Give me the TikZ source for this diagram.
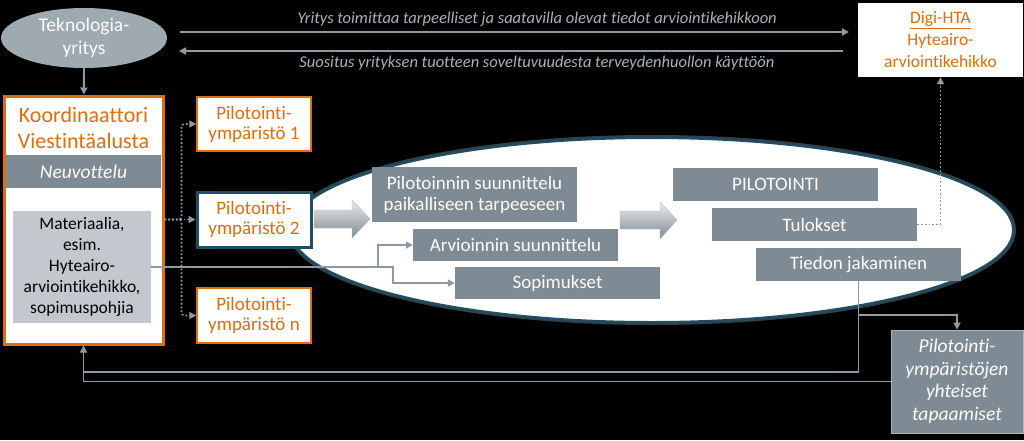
\documentclass[tikz,border=0pt]{standalone}
\usepackage{fontspec}
\setmainfont{Carlito}[Ligatures=NoCommon]
\usetikzlibrary{arrows.meta, shapes.geometric}
\definecolor{orng}{HTML}{E46C0A}
\definecolor{boxgray}{HTML}{7F8B94}
\definecolor{linegray}{HTML}{8E9AA2}
\definecolor{lightgray}{HTML}{C3C8CE}
\definecolor{darkteal}{HTML}{1F4E66}
\definecolor{txtgray}{HTML}{A9B3BA}
\begin{document}
\begin{tikzpicture}[x=1pt, y=-1pt,
  graybox/.style={fill=boxgray, text=white, inner sep=0pt, minimum width=205, font=\fontsize{19}{21}\selectfont, align=center},
  pilotbox/.style={fill=white, draw=orng, line width=1.5, text=orng, inner sep=0pt, minimum width=114, minimum height=54, font=\fontsize{19}{20}\selectfont, align=center},
  conn/.style={draw=linegray, line width=1.8, -{Triangle[length=7pt, width=7pt]}},
  dotconn/.style={conn, dotted, line width=1.6},
  toptext/.style={text=txtgray, font=\fontsize{16.5}{18}\selectfont\itshape}]
\fill[black] (0,0) rectangle (1024,440);
\useasboundingbox (0,0) rectangle (1024,440);
%Ellipse
\draw[darkteal!70, line width=6, opacity=0.5] (652,230) ellipse (361 and 92);
\draw[darkteal, line width=2, fill=white] (652,230) ellipse (361 and 92);
%Left column
\node (tek) [ellipse, fill=linegray!85!white, minimum width=166, minimum height=60, inner sep=0pt, text=white, align=center, font=\fontsize{19.5}{23}\selectfont] at (84,38) {Teknologia-\\yritys};
\node (koord) [draw=orng, line width=3, fill=white, minimum width=159, minimum height=248, inner sep=0pt] at (83.5,220) {};
\node (title) [text=orng, align=center, font=\fontsize{22}{26}\selectfont] at (83.5,128) {Koordinaattori\\Viestintäalusta};
\node (neuv) [fill=boxgray, minimum width=155, minimum height=33, inner sep=0pt, text=white, font=\fontsize{19.5}{20}\selectfont\itshape] at (83.5,171.5) {Neuvottelu};
\node (mat) [fill=lightgray, minimum width=138, minimum height=112, inner sep=0pt, align=center, font=\fontsize{17.5}{21}\selectfont] at (82,267) {Materiaalia,\\esim.\\Hyteairo-\\arviointikehikko,\\sopimuspohjia};
\node (p1) [pilotbox] at (254,124) {Pilotointi-\\ympäristö 1};
\node (p2) [pilotbox, draw=darkteal, line width=3, minimum height=55] at (254,219.5) {Pilotointi-\\ympäristö 2};
\node (pn) [pilotbox, minimum height=55] at (254,315.5) {Pilotointi-\\ympäristö n};
%Block arrows
\shade[top color=gray!15, bottom color=linegray!90!black, draw=linegray!70] (314,210) -- (352,210) -- (352,200) -- (370,219) -- (352,238) -- (352,228) -- (314,228) -- cycle;
\shade[top color=gray!15, bottom color=linegray!90!black, draw=linegray!70] (620,211) -- (660,211) -- (660,202) -- (677,220) -- (660,239) -- (660,229) -- (620,229) -- cycle;
%Gray boxes
\node (plan) [graybox, minimum height=55] at (474.5,194.5) {Pilotoinnin suunnittelu\\paikalliseen tarpeeseen};
\node (arv) [graybox, minimum height=32] at (515.5,245) {Arvioinnin suunnittelu};
\node (sop) [graybox, minimum height=32] at (557.5,283) {Sopimukset};
\node (pil) [graybox, minimum height=33] at (775.5,184.5) {PILOTOINTI};
\node (tul) [graybox, minimum height=33] at (814.5,224.5) {Tulokset};
\node (tie) [graybox, minimum height=33] at (858.5,264.5) {Tiedon jakaminen};
\node (yht) [fill=boxgray, draw=gray!60, line width=0.8, minimum width=132, minimum height=103, inner sep=0pt, text=white, align=center, font=\fontsize{19.5}{22.5}\selectfont\itshape] at (957,381.5) {Pilotointi-\\ympäristöjen\\yhteiset\\tapaamiset};
\node (digi) [fill=white, minimum width=165, minimum height=74, inner sep=0pt, text=orng, align=center, font=\fontsize{17.5}{22}\selectfont] at (940.5,40) {\underline{Digi-HTA}\\Hyteairo-\\arviointikehikko};
%Top arrows
\coordinate (tA) at (180,32);
\coordinate (tB) at (849,32);
\coordinate (tC) at (843,51);
\coordinate (tD) at (179,51);
\draw[conn] (tA) -- (tB) node[toptext, pos=0.534, above=1pt] {Yritys toimittaa tarpeelliset ja saatavilla olevat tiedot arviointikehikkoon};
\draw[conn] (tC) -- (tD) node[toptext, pos=0.461, below=1pt] {Suositus yrityksen tuotteen soveltuvuudesta terveydenhuollon käyttöön};
%Connectors
\draw[conn] (tek) -- (koord);
\draw[dotconn] (koord.east |- p2.west) -- (p2.west);
\draw[dotconn, rounded corners=3] (koord.east |- p2.west) -- ++(17,0) |- (p1.west);
\draw[dotconn, rounded corners=3] (koord.east |- p2.west) -- ++(17,0) |- (pn.west);
\draw[conn] (mat.east) -- ++(227,0) |- (arv.west);
\draw[conn] (mat.east) -- ++(242,0) |- (sop.west);
\draw[dotconn] (tul.east) -| (digi.south);
\coordinate (back) at (83.5,372);
\draw[draw=linegray, line width=1.8] (tie.south) |- (back);
\draw[conn] (yht.west) -| (koord.south);
\draw[conn] (tie.south |- 0,315) -| (yht.north);
\end{tikzpicture}
\end{document}
